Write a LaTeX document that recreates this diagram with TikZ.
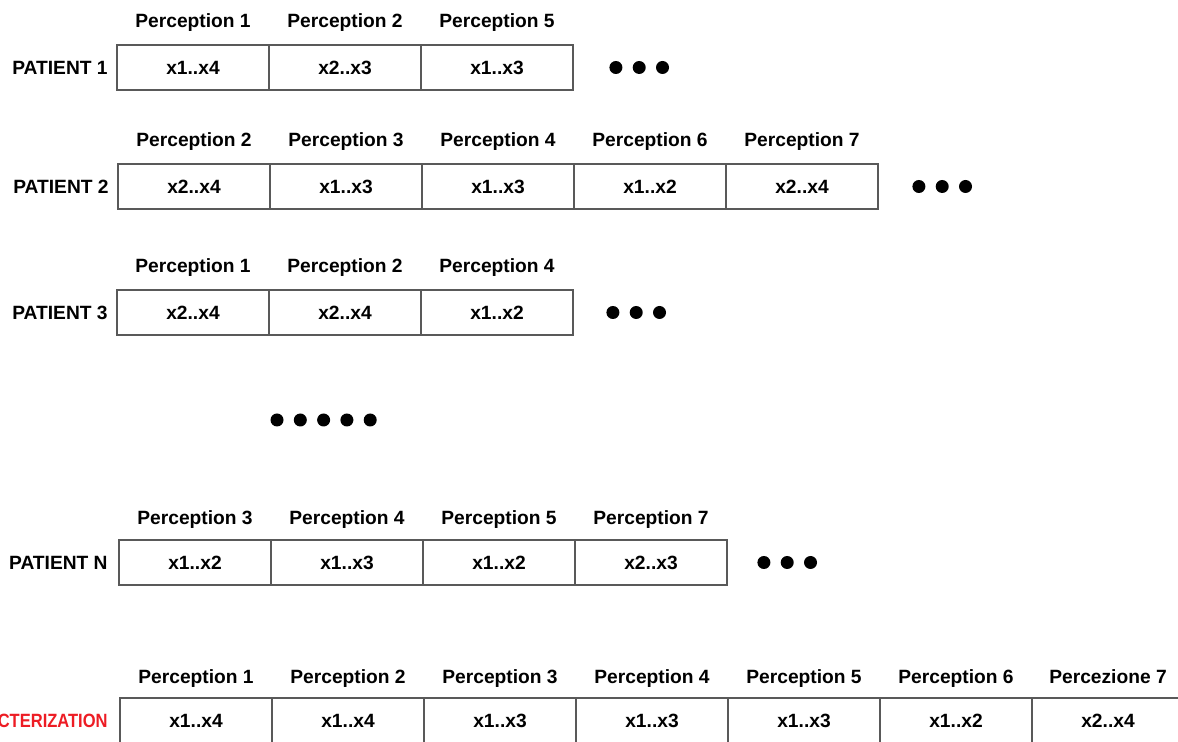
\documentclass[tikz,border=0pt]{standalone}
\usepackage{fontspec}
\setmainfont{Liberation Sans}
\newfontfamily\redfont[FakeStretch=0.86]{Liberation Sans}
\usepackage{xcolor}
\usetikzlibrary{positioning}
\definecolor{charred}{RGB}{237,28,36}

\begin{document}
\begin{tikzpicture}[
    x=0.5pt,y=0.5pt,
    every node/.style={font=\fontsize{9.6}{11}\selectfont\bfseries},
    cell/.style={draw=black!65,line width=0.7pt,minimum width=76pt,
        minimum height=22.5pt,inner sep=0pt,outer sep=0pt},
    head/.style={inner sep=0pt,text depth=0.22em},
    rowname/.style={inner sep=0pt},
    dot/.style={circle,fill=black,inner sep=0pt,minimum size=6.5pt}
]
\useasboundingbox (0,0) rectangle (1178,-742);
\clip (0,0) rectangle (1178,-742);

% patient 1
\node[cell,anchor=west] (a1) at (117,-67.5) {x1..x4};
\node[cell,right=0pt of a1] (a2) {x2..x3};
\node[cell,right=0pt of a2] (a3) {x1..x3};
\node[head,above=6.5pt of a1] (ha1) {Perception 1};
\node[head,above=6.5pt of a2] (ha2) {Perception 2};
\node[head,above=6.5pt of a3] (ha3) {Perception 5};
\node[rowname,left=4.5pt of a1] (pa) {PATIENT 1};
\node[dot,right=18pt of a3] (da1) {};
\node[dot,right=4.75pt of da1] (da2) {};
\node[dot,right=4.75pt of da2] (da3) {};

% patient 2
\node[cell,anchor=west] (b1) at (118,-186.5) {x2..x4};
\node[cell,right=0pt of b1] (b2) {x1..x3};
\node[cell,right=0pt of b2] (b3) {x1..x3};
\node[cell,right=0pt of b3] (b4) {x1..x2};
\node[cell,right=0pt of b4] (b5) {x2..x4};
\node[head,above=6.5pt of b1] (hb1) {Perception 2};
\node[head,above=6.5pt of b2] (hb2) {Perception 3};
\node[head,above=6.5pt of b3] (hb3) {Perception 4};
\node[head,above=6.5pt of b4] (hb4) {Perception 6};
\node[head,above=6.5pt of b5] (hb5) {Perception 7};
\node[rowname,left=4.5pt of b1] (pb) {PATIENT 2};
\node[dot,right=17pt of b5] (db1) {};
\node[dot,right=4.75pt of db1] (db2) {};
\node[dot,right=4.75pt of db2] (db3) {};

% patient 3
\node[cell,anchor=west] (c1) at (117,-312.5) {x2..x4};
\node[cell,right=0pt of c1] (c2) {x2..x4};
\node[cell,right=0pt of c2] (c3) {x1..x2};
\node[head,above=6.5pt of c1] (hc1) {Perception 1};
\node[head,above=6.5pt of c2] (hc2) {Perception 2};
\node[head,above=6.5pt of c3] (hc3) {Perception 4};
\node[rowname,left=4.5pt of c1] (pc) {PATIENT 3};
\node[dot,right=16.5pt of c3] (dc1) {};
\node[dot,right=4.75pt of dc1] (dc2) {};
\node[dot,right=4.75pt of dc2] (dc3) {};

% more patients
\node[dot] (m1) at (277,-420) {};
\node[dot,right=4.75pt of m1] (m2) {};
\node[dot,right=4.75pt of m2] (m3) {};
\node[dot,right=4.75pt of m3] (m4) {};
\node[dot,right=4.75pt of m4] (m5) {};

% patient N
\node[cell,anchor=west] (n1) at (119,-562.5) {x1..x2};
\node[cell,right=0pt of n1] (n2) {x1..x3};
\node[cell,right=0pt of n2] (n3) {x1..x2};
\node[cell,right=0pt of n3] (n4) {x2..x3};
\node[head,above=5.5pt of n1] (hn1) {Perception 3};
\node[head,above=5.5pt of n2] (hn2) {Perception 4};
\node[head,above=5.5pt of n3] (hn3) {Perception 5};
\node[head,above=5.5pt of n4] (hn4) {Perception 7};
\node[rowname,left=5.5pt of n1] (pn) {PATIENT N};
\node[dot,right=15pt of n4] (dn1) {};
\node[dot,right=4.75pt of dn1] (dn2) {};
\node[dot,right=4.75pt of dn2] (dn3) {};

% characterization
\node[cell,anchor=west] (e1) at (120,-720.5) {x1..x4};
\node[cell,right=0pt of e1] (e2) {x1..x4};
\node[cell,right=0pt of e2] (e3) {x1..x3};
\node[cell,right=0pt of e3] (e4) {x1..x3};
\node[cell,right=0pt of e4] (e5) {x1..x3};
\node[cell,right=0pt of e5] (e6) {x1..x2};
\node[cell,right=0pt of e6] (e7) {x2..x4};
\node[head,above=5pt of e1] (he1) {Perception 1};
\node[head,above=5pt of e2] (he2) {Perception 2};
\node[head,above=5pt of e3] (he3) {Perception 3};
\node[head,above=5pt of e4] (he4) {Perception 4};
\node[head,above=5pt of e5] (he5) {Perception 5};
\node[head,above=5pt of e6] (he6) {Perception 6};
\node[head,above=5pt of e7] (he7) {Percezione 7};
\node[rowname,text=charred,left=6pt of e1,
    font=\fontsize{9.6}{11}\selectfont\bfseries\redfont] (pe) {CHARACTERIZATION};
\end{tikzpicture}
\end{document}
